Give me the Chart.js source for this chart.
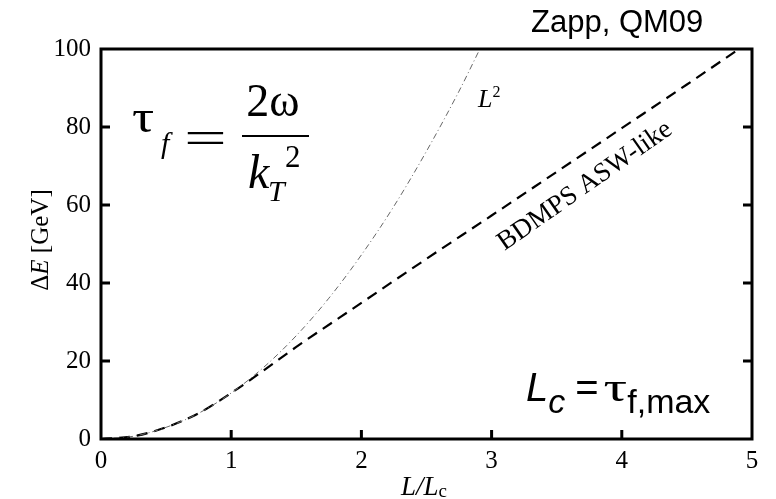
<!DOCTYPE html>
<html>
<head>
<meta charset="utf-8">
<script src="https://cdn.jsdelivr.net/npm/chart.js@4/dist/chart.umd.min.js"></script>
<style>
  html, body { margin: 0; background: #fff; }
  #eloss { display: block; }
</style>
</head>
<body>
<canvas id="eloss" width="776" height="499"></canvas>
<script>
// axis ticks
const xTicks = [0, 1, 2, 3, 4, 5];
const yTicks = [0, 20, 40, 60, 80, 100];

// L^2 reference curve (dash-dot)
const l2L = [0, 0.25, 0.5, 0.75, 1, 1.25, 1.5, 1.75, 2, 2.25, 2.5, 2.75, 2.91];
const l2E = [0, 0.7, 3.0, 6.6, 11.8, 18.4, 26.5, 36.1, 47.2, 59.7, 73.8, 89.2, 100];

// BDMPS ASW-like curve (dashed)
const bdmpsL = [0, 0.25, 0.5, 0.75, 1, 1.25, 1.5, 2, 2.5, 3, 3.5, 4, 4.5, 4.9];
const bdmpsE = [0, 0.7, 3.0, 6.6, 11.8, 17.6, 23.6, 34.9, 46.2, 57.3, 68.5, 79.7, 90.9, 100];

const toPts = (xs, ys) => xs.map((x, i) => ({ x: x, y: ys[i] }));

const SERIF = '"Liberation Serif", "Times New Roman", serif';
const SANS = '"Liberation Sans", Arial, sans-serif';

// draw a row of text pieces with different fonts / vertical offsets
function runs(ctx, x, y, parts, align) {
  let w = 0;
  parts.forEach(p => { ctx.font = p.font; w += ctx.measureText(p.t).width * (p.sx || 1) + (p.gap || 0); });
  let cx = align === 'center' ? x - w / 2 : x;
  parts.forEach(p => {
    ctx.font = p.font;
    const sx = p.sx || 1;
    ctx.save();
    ctx.translate(cx, y + (p.dy || 0));
    ctx.scale(sx, 1);
    ctx.fillText(p.t, 0, 0);
    ctx.restore();
    cx += ctx.measureText(p.t).width * sx + (p.gap || 0);
  });
}

// single glyph stretched horizontally
function wide(ctx, t, font, x, y, sx) {
  ctx.save();
  ctx.font = font;
  ctx.translate(x, y);
  ctx.scale(sx, 1);
  ctx.fillText(t, 0, 0);
  ctx.restore();
}

const decor = {
  id: 'decor',
  afterDraw(chart) {
    const ctx = chart.ctx;
    const a = chart.chartArea;
    const xs = chart.scales.x, ys = chart.scales.y;
    ctx.save();
    ctx.strokeStyle = '#000';
    ctx.fillStyle = '#000';

    // frame
    ctx.lineWidth = 3;
    ctx.strokeRect(a.left, a.top, a.right - a.left, a.bottom - a.top);

    // inward ticks
    ctx.beginPath();
    xTicks.slice(1, -1).forEach(v => {
      const px = xs.getPixelForValue(v);
      ctx.moveTo(px, a.bottom); ctx.lineTo(px, a.bottom - 9);
    });
    yTicks.slice(1, -1).forEach(v => {
      const py = ys.getPixelForValue(v);
      ctx.moveTo(a.left, py); ctx.lineTo(a.left + 9, py);
      ctx.moveTo(a.right, py); ctx.lineTo(a.right - 9, py);
    });
    ctx.stroke();

    ctx.textBaseline = 'alphabetic';
    ctx.textAlign = 'left';

    // axis titles
    runs(ctx, 424, 495, [
      { t: 'L/L', font: 'italic 27px ' + SERIF },
      { t: 'c', font: '19px ' + SERIF, dy: 2 }
    ], 'center');

    ctx.save();
    ctx.translate(48, 240);
    ctx.rotate(-Math.PI / 2);
    runs(ctx, 0, 0, [
      { t: '\u0394', font: '25px ' + SERIF },
      { t: 'E', font: 'italic 25px ' + SERIF },
      { t: ' [GeV]', font: '25px ' + SERIF }
    ], 'center');
    ctx.restore();

    // source note
    ctx.font = '31px ' + SANS;
    ctx.fillText('Zapp, QM09', 531, 32);

    // curve labels
    runs(ctx, 478, 107, [
      { t: 'L', font: 'italic 26px ' + SERIF },
      { t: '2', font: '16px ' + SERIF, dy: -10 }
    ]);

    ctx.save();
    ctx.translate(585, 186);
    ctx.rotate(-35 * Math.PI / 180);
    ctx.font = '27px ' + SERIF;
    ctx.textAlign = 'center';
    ctx.textBaseline = 'middle';
    ctx.fillText('BDMPS ASW-like', 0, 0);
    ctx.restore();

    // formation time
    ctx.textAlign = 'left';
    wide(ctx, '\u03c4', '46px ' + SERIF, 132, 132, 1.2);
    ctx.font = 'italic 30px ' + SERIF;
    ctx.fillText('f', 161, 153);
    wide(ctx, '=', '46px ' + SERIF, 184, 153, 1.65);
    ctx.font = '46px ' + SERIF;
    ctx.textAlign = 'center';
    ctx.fillText('2\u03c9', 273, 116);
    ctx.lineWidth = 2;
    ctx.beginPath();
    ctx.moveTo(242, 136); ctx.lineTo(309, 136);
    ctx.stroke();
    ctx.textAlign = 'left';
    ctx.font = 'italic 48px ' + SERIF;
    ctx.fillText('k', 248, 188);
    ctx.font = 'italic 30px ' + SERIF;
    ctx.fillText('T', 268, 201);
    ctx.font = '31px ' + SERIF;
    ctx.fillText('2', 285, 167);

    // coherence length
    runs(ctx, 526, 401, [
      { t: 'L', font: 'italic 40px ' + SANS },
      { t: 'c', font: 'italic 34px ' + SANS, dy: 12, gap: 10 },
      { t: '=', font: '40px ' + SANS, gap: 5 },
      { t: '\u03c4', font: '42px ' + SERIF, sx: 1.4 },
      { t: 'f,max', font: '34px ' + SANS, dy: 12 }
    ]);

    ctx.restore();
  }
};

new Chart(document.getElementById('eloss'), {
  type: 'line',
  data: {
    datasets: [
      {
        label: 'L2',
        data: toPts(l2L, l2E),
        borderColor: '#666',
        borderWidth: 1,
        borderDash: [6, 3, 1, 3],
        pointRadius: 0,
        cubicInterpolationMode: 'monotone',
        fill: false
      },
      {
        label: 'BDMPS ASW-like',
        data: toPts(bdmpsL, bdmpsE),
        borderColor: '#000',
        borderWidth: 2.2,
        borderDash: [11, 7],
        pointRadius: 0,
        cubicInterpolationMode: 'monotone',
        fill: false
      }
    ]
  },
  options: {
    responsive: false,
    animation: false,
    devicePixelRatio: 1,
    layout: { padding: { left: 0, right: 24, top: 49, bottom: 0 } },
    plugins: { legend: { display: false }, tooltip: { enabled: false } },
    scales: {
      x: {
        type: 'linear',
        min: 0,
        max: 5,
        afterBuildTicks: s => { s.ticks = xTicks.map(v => ({ value: v })); },
        afterFit: s => { s.height = 60; },
        grid: { display: false, drawTicks: false },
        border: { display: false },
        ticks: {
          color: '#000',
          padding: 7,
          maxRotation: 0,
          font: { family: SERIF, size: 25 }
        }
      },
      y: {
        type: 'linear',
        min: 0,
        max: 100,
        afterBuildTicks: s => { s.ticks = yTicks.map(v => ({ value: v })); },
        afterFit: s => { s.width = 101; },
        grid: { display: false, drawTicks: false },
        border: { display: false },
        ticks: {
          color: '#000',
          padding: 10,
          font: { family: SERIF, size: 25 }
        }
      }
    }
  },
  plugins: [decor]
});
</script>
</body>
</html>
